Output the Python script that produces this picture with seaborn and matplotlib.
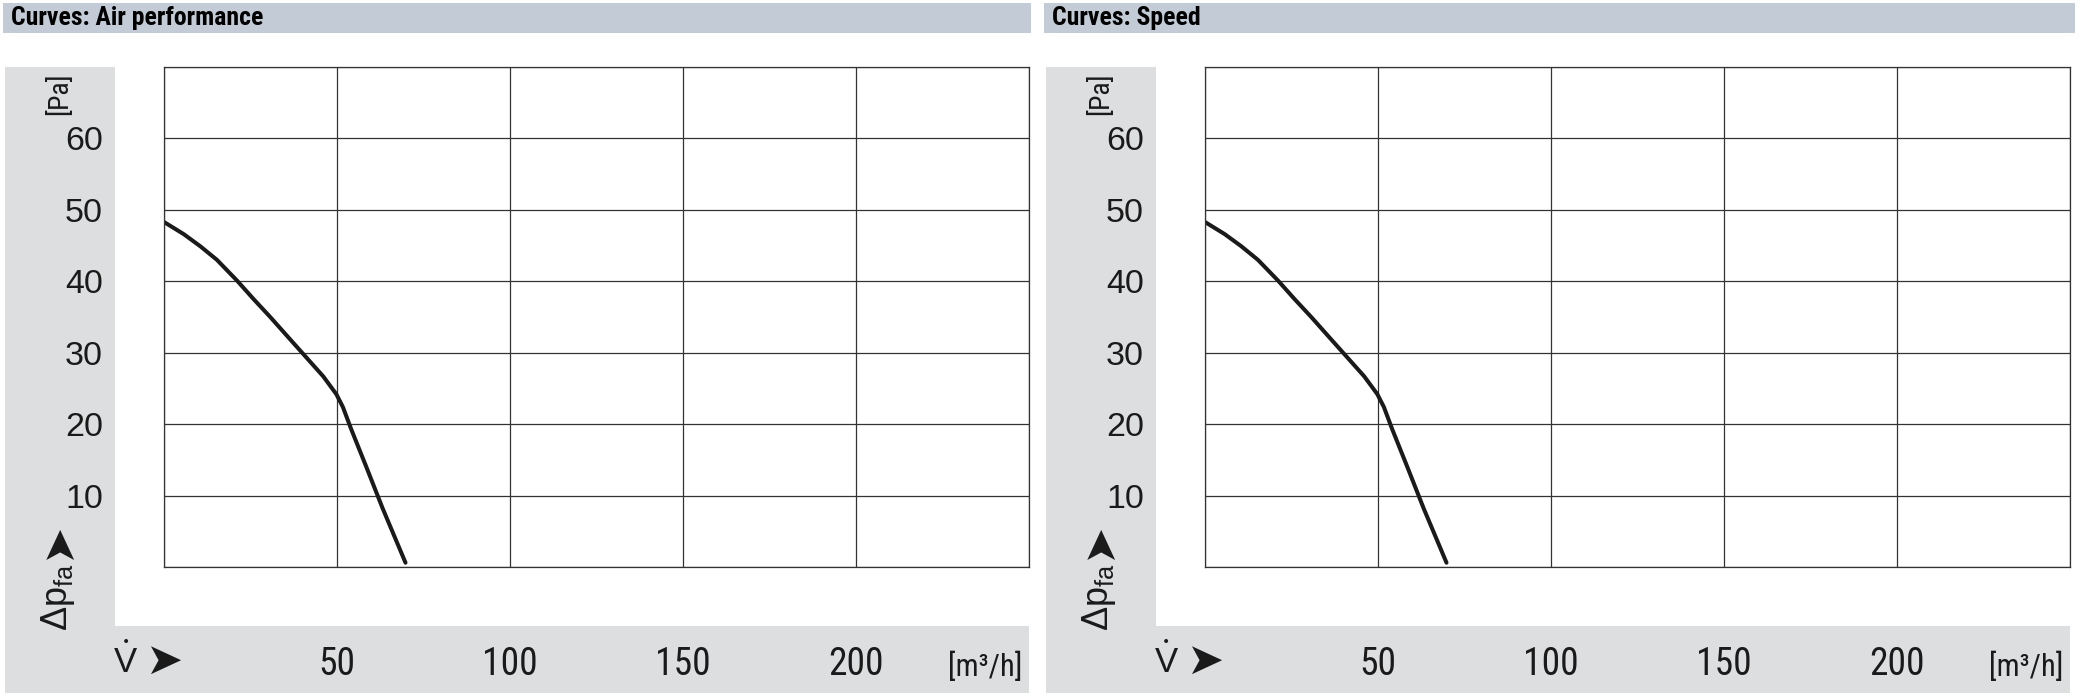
#!/usr/bin/env python3

import matplotlib
matplotlib.use("Agg")
import matplotlib.pyplot as plt
from matplotlib.patches import Rectangle
import seaborn

# values (same curve on both panels)
flow = [0, 5.7, 10.5, 15.3, 21.1, 25.9, 30.7, 36.4, 41.2, 46.0, 49.8, 51.7, 54.1, 58.4, 63.2, 69.8]
pressure = [48.3, 46.6, 44.9, 43.0, 40.1, 37.5, 35.0, 31.9, 29.3, 26.7, 24.2, 22.4, 19.3, 14.1, 8.2, 0.6]

xticks = [0, 50, 100, 150, 200, 250]
xlabels = ["", "50", "100", "150", "200", ""]
yticks = [0, 10, 20, 30, 40, 50, 60, 70]
ylabels = ["", "10", "20", "30", "40", "50", "60", ""]

titles = ["Curves: Air performance", "Curves: Speed"]

W, H = 2092, 696
HEADER = "#c2cbd6"
PANEL = "#dcdee0"
INK = "#1a1a1a"
NARROW = ["Roboto Condensed", "Liberation Sans", "DejaVu Sans"]
SANS = ["Liberation Sans", "DejaVu Sans"]


def box(fig, x0, y0, x1, y1, color):
    """Draw a filled rectangle given in pixel coords (origin top-left)."""
    fig.add_artist(Rectangle((x0 / W, 1 - y1 / H), (x1 - x0) / W, (y1 - y0) / H,
                             transform=fig.transFigure, color=color, lw=0, zorder=0))


def label(fig, x, y, s, **kw):
    fig.text(x / W, 1 - y / H, s, ha="center", va="center", color=INK, **kw)


def panel(fig, dx, title, hx1):
    """
    Draw one chart panel shifted dx pixels to the right.
    """
    # header
    box(fig, 3 + dx, 3, hx1, 33, HEADER)
    fig.text((11 + dx) / W, 1 - 18 / H, title, ha="left", va="center",
             family=NARROW, weight="bold", fontsize=18.5, color="black")

    # grey L-shaped background for the axis labels
    box(fig, 5 + dx, 67, 115 + dx, 693, PANEL)
    box(fig, 5 + dx, 626, 1029 + dx, 693, PANEL)

    ax = fig.add_axes([(164 + dx) / W, 1 - 567 / H, 865 / W, 500 / H])
    seaborn.lineplot(x=flow, y=pressure, ax=ax, color=INK, lw=2.9)

    ax.set_xlim(0, 250)
    ax.set_ylim(0, 70)
    ax.set_xticks(xticks, xlabels, family=NARROW, weight="normal", fontsize=27)
    ax.set_yticks(yticks, ylabels, family=SANS, fontsize=24.5)
    ax.tick_params(axis="both", length=0, colors=INK)
    ax.tick_params(axis="x", pad=57)
    ax.tick_params(axis="y", pad=44)
    ax.grid(True, color="#333333", lw=0.9)
    for sp in ax.spines.values():
        sp.set_color("#333333")
        sp.set_linewidth(0.9)
    ax.set_xlabel("")
    ax.set_ylabel("")

    # y axis name
    label(fig, 60 + dx, 94, "[Pa]", family=NARROW, fontsize=20, rotation=90)
    label(fig, 57 + dx, 541, "\u27a4", family=["DejaVu Sans"], fontsize=32, rotation=90)
    label(fig, 58 + dx, 597, "\u0394p$_{fa}$", family=SANS, fontsize=26, rotation=90)

    # x axis name
    label(fig, 125.5 + dx, 663, "V", family=SANS, fontsize=25)
    label(fig, 125.5 + dx, 642, "\u2022", family=["DejaVu Sans"], fontsize=10)
    label(fig, 164 + dx, 661, "\u27a4", family=["DejaVu Sans"], fontsize=32)
    label(fig, 985 + dx, 667, "[m\u00b3/h]", family=NARROW, fontsize=22)

    return ax


if __name__ == '__main__':

    seaborn.set_style("white")
    plt.rcParams["mathtext.default"] = "regular"

    fig = plt.figure(figsize=(W / 100, H / 100), dpi=100)
    fig.patch.set_facecolor("white")

    panel(fig, 0, titles[0], 1031)
    panel(fig, 1041, titles[1], 2075)

    fig.savefig("out.png", dpi=100, format="png")
